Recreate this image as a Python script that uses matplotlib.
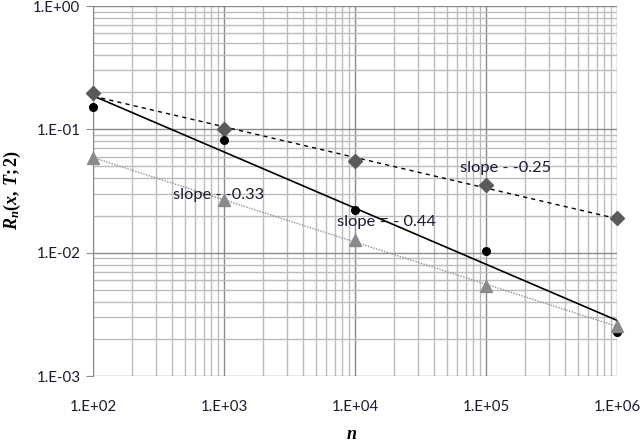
import numpy as np
import matplotlib
matplotlib.use("Agg")
import matplotlib.pyplot as plt
from matplotlib.ticker import LogLocator, NullFormatter, FixedLocator

n_values = [1e2, 1e3, 1e4, 1e5, 1e6]
diamond_vals = [0.197, 0.100, 0.055, 0.0353, 0.019]
circle_vals = [0.152, 0.082, 0.022, 0.0103, 0.00227]
triangle_vals = [0.0585, 0.0267, 0.0127, 0.00536, 0.00254]
x_ticks = [1e2, 1e3, 1e4, 1e5, 1e6]
x_tick_labels = ["1.E+02", "1.E+03", "1.E+04", "1.E+05", "1.E+06"]
y_ticks = [1e-3, 1e-2, 1e-1, 1e0]
y_tick_labels = ["1.E-03", "1.E-02", "1.E-01", "1.E+00"]
slope_labels = ["slope - -0.25", "slope = - 0.44", "slope - -0.33"]

plt.rcParams['font.family'] = ['Lato', 'DejaVu Sans']
plt.rcParams['mathtext.fontset'] = 'custom'
plt.rcParams['mathtext.it'] = 'Liberation Serif:italic:bold'
plt.rcParams['mathtext.rm'] = 'Liberation Serif:bold'

fig = plt.figure(figsize=(6.4, 4.42), dpi=100)
ax = fig.add_axes([93/640, 1-376/442, (617-93)/640, (376-6)/442])
ax.set_xscale('log')
ax.set_yscale('log')
ax.set_xlim(1e2, 1e6)
ax.set_ylim(1e-3, 1e0)

ax.xaxis.set_major_locator(FixedLocator(x_ticks))
ax.yaxis.set_major_locator(FixedLocator(y_ticks))
ax.xaxis.set_minor_locator(LogLocator(base=10, subs=np.arange(2, 10)))
ax.yaxis.set_minor_locator(LogLocator(base=10, subs=np.arange(2, 10)))
ax.xaxis.set_minor_formatter(NullFormatter())
ax.yaxis.set_minor_formatter(NullFormatter())
ax.set_xticklabels(x_tick_labels)
ax.set_yticklabels(y_tick_labels)

ax.grid(True, which='major', color='#8a8a8a', linewidth=1.0)
ax.grid(True, which='minor', color='#bcbcbc', linewidth=1.0)
ax.set_axisbelow(True)

for s in ['top', 'right', 'bottom']:
    ax.spines[s].set_visible(False)
ax.spines['left'].set_color('#8a8a8a')
ax.tick_params(axis='x', which='both', length=0, pad=17, labelsize=10.8, labelcolor='#1a1a30')
ax.tick_params(axis='y', which='major', length=5, color='#8a8a8a', pad=4, labelsize=10.8, labelcolor='#1a1a30')
ax.tick_params(axis='y', which='minor', length=0)

lx = np.log10(n_values)
xs = np.array([n_values[0], n_values[-1]])

def fit(vals):
    p = np.polyfit(lx, np.log10(vals), 1)
    return 10 ** np.polyval(p, np.log10(xs))

ax.plot(xs, fit(diamond_vals), color='black', linestyle=(0, (3, 3)), linewidth=1.0, zorder=3)
ax.plot(xs, fit(circle_vals), color='black', linestyle='-', linewidth=1.2, zorder=3)
ax.plot(xs, fit(triangle_vals), color='#909090', linestyle=(0, (1, 1)), linewidth=1.0, zorder=3)

ax.plot(n_values, diamond_vals, linestyle='none', marker='D', markersize=7, color='#5a5a5a', zorder=4, clip_on=False)
ax.plot(n_values, circle_vals, linestyle='none', marker='o', markersize=5.5, color='black', zorder=4, clip_on=False)
ax.plot(n_values, triangle_vals, linestyle='none', marker='^', markersize=9, color='#8a8a8a', zorder=4, clip_on=False)

txt_kw = dict(fontsize=11.8, color='#1a1a30', va='center', ha='left', zorder=5)
ax.text(6.3e4, 0.0485, slope_labels[0], **txt_kw)
ax.text(7.3e3, 0.0177, slope_labels[1], **txt_kw)
ax.text(4.07e2, 0.0293, slope_labels[2], **txt_kw)

fig.text(12/640, 1-190/442, r'$R_n(x,\,T;2)$', rotation=90, ha='center', va='center', fontsize=13)
fig.text(352/640, 1-434/442, r'$n$', ha='center', va='center', fontsize=13)

fig.savefig('out.png', dpi=100)
